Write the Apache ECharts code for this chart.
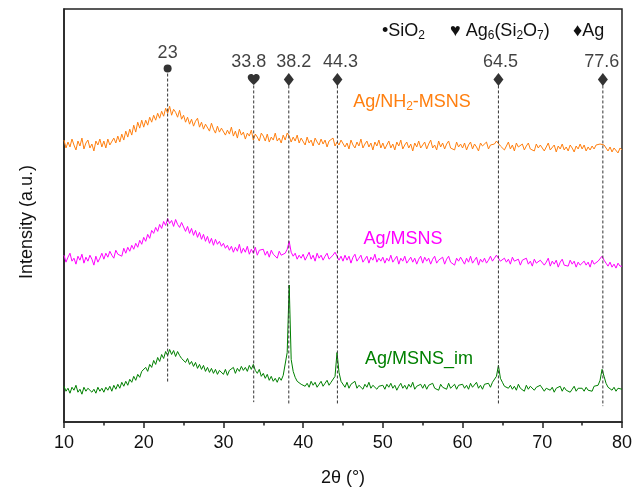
<!DOCTYPE html>
<html><head><meta charset="utf-8">
<script src="https://cdn.jsdelivr.net/npm/echarts@6/dist/echarts.min.js"></script>
<style>html,body{margin:0;padding:0;background:#fff}#c{width:635px;height:492px}</style>
</head><body><div id="c"></div>
<script>
// scan grid: 2θ from 10 to 80 in 0.25° steps
const scanStart = 10, scanStep = 0.25;

// intensity (arbitrary units), one row = 5°
const orangeY = [
284,276,282,277,285,279,274,283,278,286,275,281,284,276,280,273,283,279,285,277,
283,276,285,279,277,286,281,288,282,290,284,293,287,295,289,299,292,302,296,304,
297,304,299,307,302,309,304,311,306,313,308,316,311,318,309,315,312,307,314,305,
309,302,307,300,305,298,303,306,297,302,295,300,298,293,301,295,291,298,292,296,
296,289,294,290,297,288,293,286,295,289,292,285,291,288,294,284,290,287,283,291,
288,283,290,282,287,284,291,283,286,281,289,284,291,288,282,287,283,289,281,286,
285,279,287,281,284,278,286,282,279,285,280,284,277,283,281,286,278,282,279,284,
283,277,281,275,284,279,276,282,278,285,276,280,283,277,281,274,282,278,284,276,
281,275,279,283,276,280,274,282,278,284,275,279,282,276,280,273,281,277,283,276,
277,282,275,280,284,276,279,274,283,277,281,275,280,283,276,278,274,282,277,280,
276,281,274,279,282,275,280,277,273,281,278,276,282,275,279,277,280,283,285,278,
280,274,278,282,275,279,273,281,277,276,280,274,278,281,275,277,273,280,276,279,
278,273,277,281,274,276,279,272,278,275,280,274,277,273,279,276,272,278,275,280,
275,279,273,277,274,278,275,279,277,280,282,279,276,273,277,272,276,274,271,276,
274];
const magentaY = [
168,161,166,170,162,165,159,167,163,169,160,166,162,168,164,158,167,161,165,170,
164,170,166,172,168,165,173,169,171,167,175,170,176,172,178,174,180,176,183,179,
186,182,189,185,193,190,196,192,199,195,202,198,205,200,203,197,204,199,196,201,
199,192,197,190,195,188,193,186,191,184,189,182,187,180,185,178,184,179,182,177,
180,175,178,173,177,171,176,172,179,170,175,171,177,169,174,170,176,168,173,171,
174,168,172,166,173,169,171,165,172,168,166,170,174,182,171,167,170,164,168,165,
169,163,167,171,164,168,162,170,165,168,163,167,170,164,166,168,171,169,163,167,
162,168,163,167,160,166,169,162,165,168,161,164,167,160,166,163,169,161,165,162,
166,160,165,162,168,161,164,167,159,165,162,167,160,163,166,161,165,159,164,167,
160,166,162,165,159,164,167,160,163,161,166,159,164,167,161,163,158,165,162,166,
164,159,165,161,167,160,163,166,158,164,161,165,160,163,167,162,165,168,166,162,
160,165,161,164,159,166,162,160,164,158,163,161,165,159,162,157,164,160,158,163,
163,158,161,165,157,162,159,163,156,161,164,158,160,157,163,159,162,156,161,158,
157,162,158,161,156,163,159,160,162,164,167,163,160,157,161,156,159,155,160,157,
157];
const greenY = [
36,31,34,29,35,32,37,30,33,28,35,31,34,36,30,33,29,35,31,34,
30,35,32,36,31,37,33,38,34,40,36,41,37,43,40,46,42,48,45,51,
49,55,51,58,55,62,58,65,61,68,64,71,67,73,68,72,66,71,67,64,
66,60,64,58,61,56,60,54,58,53,57,51,55,50,54,49,53,48,52,50,
48,53,47,52,50,55,49,54,51,56,52,55,51,57,53,58,52,49,53,46,
49,44,48,42,46,41,44,40,45,42,47,49,70,138,63,51,45,41,43,38,
40,36,39,35,41,37,40,35,38,41,36,39,42,37,40,38,46,70,50,41,
39,35,40,34,38,36,41,34,37,39,33,38,35,40,34,37,39,33,36,38,
37,33,38,35,39,34,37,32,36,39,34,37,33,38,35,40,33,36,34,38,
34,38,33,37,35,39,34,36,32,38,35,37,33,39,34,36,38,33,37,35,
38,34,37,33,39,35,36,40,34,37,33,38,36,39,35,40,42,46,57,44,
40,36,38,34,37,33,36,32,38,34,35,31,37,33,36,34,32,35,33,37,
35,31,34,36,32,35,30,34,33,36,31,35,32,34,30,33,36,31,34,32,
34,31,35,32,34,31,36,34,37,42,53,46,39,35,36,32,35,31,34,32,
33];

// peak annotations
const peakPos = [23, 33.8, 38.2, 44.3, 64.5, 77.6];
const peakText = ['23', '33.8', '38.2', '44.3', '64.5', '77.6'];
const peakPhase = ['SiO2', 'Ag6Si2O7', 'Ag', 'Ag', 'Ag', 'Ag'];
const peakMarkY = [356, 345, 345, 345, 345, 345];
const peakLineTop = [351, 339, 339, 339, 339, 339];
const peakLineBottom = [40, 20, 18, 18, 18, 16];

const seriesNames = ['Ag/NH2-MSNS', 'Ag/MSNS', 'Ag/MSNS_im'];
const seriesColors = ['#ff7f0f', '#ff00ff', '#008000'];

// styling
const labelShiftX = [0, -5, 5, 3, 2, -1];
const FONT = "'Liberation Sans', Arial, Helvetica, sans-serif";
const FS = 18;
const heartPath = 'path://M12,21 L10.5,19.6 C5.4,15 2,11.9 2,8.1 C2,5 4.4,2.6 7.5,2.6 C9.2,2.6 10.9,3.4 12,4.7 C13.1,3.4 14.8,2.6 16.5,2.6 C19.6,2.6 22,5 22,8.1 C22,11.9 18.6,15 13.5,19.6 Z';
const phaseSymbol = {SiO2: 'circle', Ag6Si2O7: heartPath, Ag: 'diamond'};
const phaseSize = {SiO2: [8, 8], Ag6Si2O7: [12, 11], Ag: [10, 13]};
const phaseLabelOffset = {SiO2: -16, Ag6Si2O7: -17, Ag: -17};

function toPairs(arr) { return arr.map((v, i) => [scanStart + i * scanStep, v]); }

const ctx = document.createElement('canvas').getContext('2d');
function tw(t, fs) { ctx.font = fs + 'px ' + FONT; return ctx.measureText(t).width; }
function textRun(parts, x, y, color, fs, anchor) {
  const sfs = Math.round(fs * 0.65);
  const total = parts.reduce((s, p) => s + tw(p[0], p[1] ? sfs : fs), 0);
  let cx = anchor === 'center' ? x - total / 2 : x;
  const els = [];
  parts.forEach(p => {
    const f = p[1] ? sfs : fs;
    els.push({type: 'text', x: cx, y: p[1] ? y + 5 : y, silent: true,
      style: {text: p[0], fill: color, fontSize: f, fontFamily: FONT, align: 'left', verticalAlign: 'middle'}});
    cx += tw(p[0], f);
  });
  return els;
}

const lineSeries = [orangeY, magentaY, greenY].map((arr, k) => ({
  type: 'line', name: seriesNames[k], data: toPairs(arr), showSymbol: false, symbol: 'none',
  lineStyle: {color: seriesColors[k], width: 1}, itemStyle: {color: seriesColors[k]}, z: 2, silent: true
}));
const dashSeries = peakPos.map((p, i) => ({
  type: 'line', data: [[p, peakLineTop[i]], [p, peakLineBottom[i]]], showSymbol: false, symbol: 'none',
  lineStyle: {color: '#333', width: 1, type: [3, 2]}, z: 3, silent: true
}));
const markerSeries = {
  type: 'scatter', z: 4, silent: true,
  data: peakPos.map((p, i) => ({
    value: [p, peakMarkY[i]], symbol: phaseSymbol[peakPhase[i]], symbolSize: phaseSize[peakPhase[i]],
    label: {show: true, formatter: peakText[i], position: 'inside', offset: [labelShiftX[i], phaseLabelOffset[peakPhase[i]]],
      color: '#111', fontSize: FS, fontFamily: FONT}
  })),
  itemStyle: {color: '#000'}
};

const graphics = [].concat(
  textRun([['•SiO', 0], ['2', 1]], 382, 31, '#111', FS, 'left'),
  textRun([['♥ Ag', 0], ['6', 1], ['(Si', 0], ['2', 1], ['O', 0], ['7', 1], [')', 0]], 450, 31, '#111', FS, 'left'),
  textRun([['♦Ag', 0]], 573, 31, '#111', FS, 'left'),
  textRun([['Ag/NH', 0], ['2', 1], ['-MSNS', 0]], 412, 102, seriesColors[0], FS, 'center'),
  textRun([['Ag/MSNS', 0]], 403, 239, seriesColors[1], FS, 'center'),
  textRun([['Ag/MSNS_im', 0]], 419, 359, seriesColors[2], FS, 'center'),
  [{type: 'text', x: 27, y: 222, rotation: Math.PI / 2, silent: true,
    style: {text: 'Intensity (a.u.)', fill: '#111', fontSize: FS, fontFamily: FONT, align: 'center', verticalAlign: 'middle'}}]
);

const axisColor = '#222';
const chart = echarts.init(document.getElementById('c'), null, {renderer: 'canvas'});
chart.setOption({
  animation: false,
  backgroundColor: '#fff',
  grid: {left: 64, right: 11, top: 9, bottom: 67, show: true, borderColor: axisColor, borderWidth: 1.5, backgroundColor: 'transparent'},
  xAxis: {
    type: 'value', min: 10, max: 80, interval: 10,
    axisLine: {show: true, onZero: false, lineStyle: {color: axisColor, width: 1.5}},
    axisTick: {show: true, inside: false, length: 6, lineStyle: {color: axisColor, width: 1.5}},
    minorTick: {show: true, splitNumber: 2, length: 3.5, lineStyle: {color: axisColor, width: 1.5}},
    splitLine: {show: false},
    axisLabel: {fontSize: FS, color: '#111', margin: 12, fontFamily: FONT},
    name: '2θ (°)', nameLocation: 'middle', nameGap: 47,
    nameTextStyle: {fontSize: FS, color: '#111', fontFamily: FONT}
  },
  yAxis: {
    type: 'value', min: 0, max: 416,
    axisLine: {show: true, onZero: false, lineStyle: {color: axisColor, width: 1.5}},
    axisTick: {show: false}, axisLabel: {show: false}, splitLine: {show: false}
  },
  series: lineSeries.concat(dashSeries, [markerSeries]),
  graphic: graphics
});
</script>
</body></html>
